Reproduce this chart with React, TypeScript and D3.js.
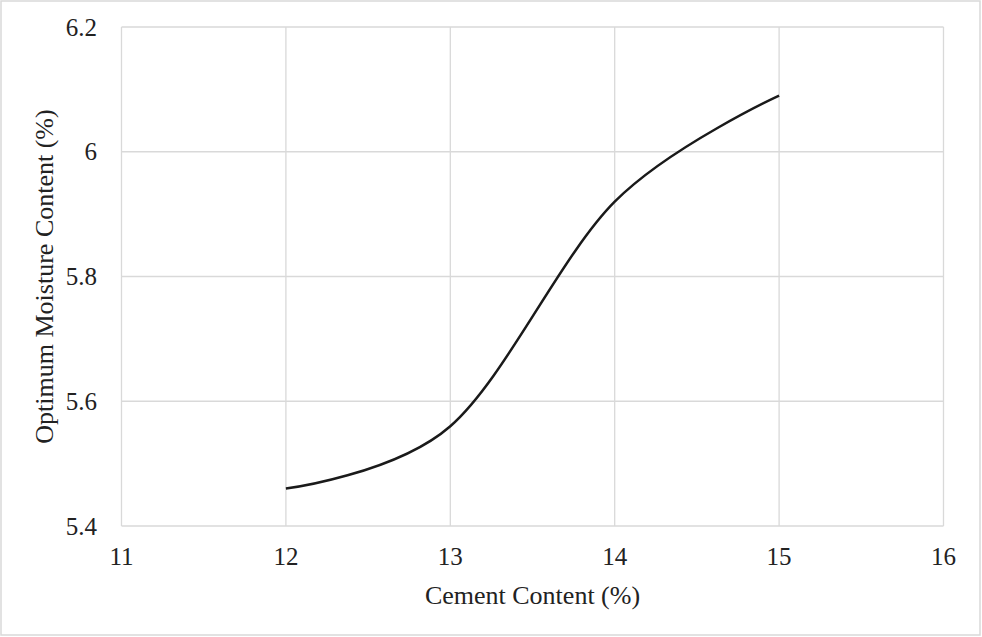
import React from "react";
import * as d3 from "d3";

const cementContent = [12, 13, 14, 15];
const moistureContent = [5.46, 5.56, 5.92, 6.09];
const xTicks = [11, 12, 13, 14, 15, 16];
const yTicks = [5.4, 5.6, 5.8, 6.0, 6.2];
const xTitle = "Cement Content (%)";
const yTitle = "Optimum Moisture Content (%)";

const W = 982;
const H = 637;
const M = { left: 121.5, right: 943.5, top: 27, bottom: 526 };
const FONT = "'Liberation Serif', 'Times New Roman', serif";

export default function App() {
  const x = d3.scaleLinear().domain([11, 16]).range([M.left, M.right]);
  const y = d3.scaleLinear().domain([5.4, 6.2]).range([M.bottom, M.top]);
  const pts = cementContent.map((c, i) => [c, moistureContent[i]] as [number, number]);
  const line = d3
    .line<[number, number]>()
    .x((d) => x(d[0]))
    .y((d) => y(d[1]))
    .curve(d3.curveCardinal.tension(0));
  const fmtY = (v: number) => (Math.abs(v - 6) < 1e-9 ? "6" : d3.format(".1f")(v));

  return (
    <svg
      width={W}
      height={H}
      style={{ position: "absolute", left: 0, top: 0, background: "#fff" }}
    >
      <rect x={1} y={1} width={W - 3} height={H - 3} fill="#fff" stroke="#d9d9d9" strokeWidth={1.5} />
      {xTicks.map((t) => (
        <line key={"gx" + t} x1={x(t)} x2={x(t)} y1={M.top} y2={M.bottom} stroke="#d9d9d9" strokeWidth={1.3} />
      ))}
      {yTicks.map((t) => (
        <line key={"gy" + t} x1={M.left} x2={M.right} y1={y(t)} y2={y(t)} stroke="#d9d9d9" strokeWidth={1.3} />
      ))}
      {xTicks.map((t) => (
        <text key={"tx" + t} x={x(t)} y={565} textAnchor="middle" fontFamily={FONT} fontSize={25} fill="#222">
          {t}
        </text>
      ))}
      {yTicks.map((t) => (
        <text key={"ty" + t} x={97} y={y(t) + 8.5} textAnchor="end" fontFamily={FONT} fontSize={25} fill="#222">
          {fmtY(t)}
        </text>
      ))}
      <path d={line(pts) || ""} fill="none" stroke="#1a1a1a" strokeWidth={2.5} />
      <text x={(M.left + M.right) / 2} y={604} textAnchor="middle" fontFamily={FONT} fontSize={26} fill="#222">
        {xTitle}
      </text>
      <text
        transform={`translate(53, ${(M.top + M.bottom) / 2}) rotate(-90)`}
        textAnchor="middle"
        fontFamily={FONT}
        fontSize={26}
        fill="#222"
      >
        {yTitle}
      </text>
    </svg>
  );
}
